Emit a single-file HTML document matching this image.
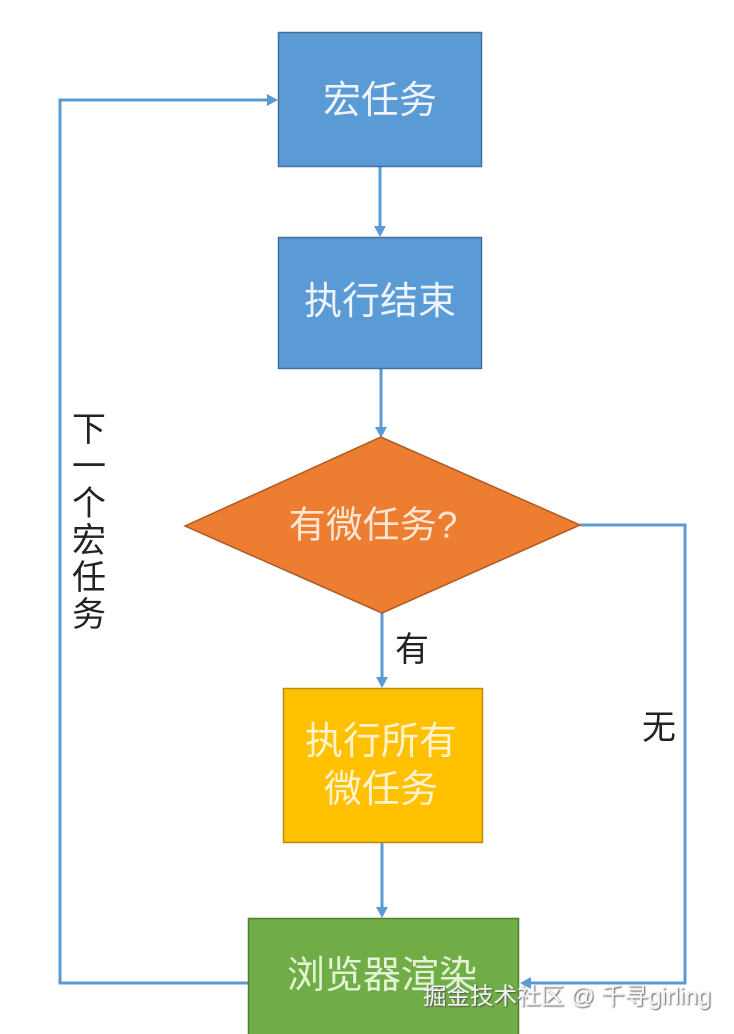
<!DOCTYPE html>
<html><head><meta charset="utf-8"><style>
html,body{margin:0;padding:0;background:#fff;}
svg{display:block;}
text{font-family:"Liberation Sans","Noto Sans CJK SC","WenQuanYi Zen Hei",sans-serif;}
</style></head><body>
<svg width="734" height="1034" viewBox="0 0 734 1034" xmlns="http://www.w3.org/2000/svg">
<defs>
<filter id="sh" x="-5%" y="-30%" width="110%" height="160%"><feDropShadow dx="1" dy="1" stdDeviation="0.8" flood-color="#444" flood-opacity="0.9"/></filter>
</defs>
<!-- connectors -->
<g stroke="#5b9bd5" stroke-width="3" fill="none">
<line x1="380" y1="167" x2="380" y2="228"/>
<line x1="381" y1="369" x2="381" y2="428"/>
<line x1="382" y1="613" x2="382" y2="679"/>
<line x1="382" y1="843" x2="382" y2="909"/>
<polyline points="248,983 60,983 60,100 269,100"/>
<polyline points="580,525 685,525 685,983 529,983"/>
</g>
<g fill="#5b9bd5">
<polygon points="374,226 386,226 380,237"/>
<polygon points="375,427 387,427 381,438"/>
<polygon points="376,677 388,677 382,688"/>
<polygon points="376,907 388,907 382,918"/>
<polygon points="267,94 267,106 278,100"/>
<polygon points="531,977 531,989 520,983"/>
</g>
<!-- boxes -->
<rect x="278.5" y="32.5" width="203" height="134" fill="#5b9bd5" stroke="#41719c" stroke-width="1.5"/>
<rect x="278.5" y="237.5" width="203" height="131" fill="#5b9bd5" stroke="#41719c" stroke-width="1.5"/>
<polygon points="381,437 580,525 382,613 185,526" fill="#ed7d31" stroke="#ae5a21" stroke-width="1.5"/>
<rect x="283.5" y="688.5" width="199" height="154" fill="#ffc000" stroke="#bc8c00" stroke-width="1.5"/>
<rect x="248.5" y="918.5" width="270" height="120" fill="#70ad47" stroke="#507e32" stroke-width="1.5"/>
<!-- box texts -->
<g fill="#eef4fa" font-size="38" text-anchor="middle" dominant-baseline="central">
<text x="380" y="101">宏任务</text>
<text x="380" y="302">执行结束</text>
</g>
<text x="373" y="525" fill="#fde6d4" font-size="37" text-anchor="middle" dominant-baseline="central">有微任务?</text>
<g fill="#fff3cf" font-size="38" text-anchor="middle" dominant-baseline="central">
<text x="381" y="742">执行所有</text>
<text x="381" y="790">微任务</text>
</g>
<text x="382" y="976" fill="#e4f3d6" font-size="38" text-anchor="middle" dominant-baseline="central">浏览器渲染</text>
<!-- labels -->
<g fill="#222" font-size="34" text-anchor="middle" dominant-baseline="central">
<text x="412" y="650">有</text>
<text x="659" y="728">无</text>
<text x="89" y="430">下</text>
<text x="89" y="467">一</text>
<text x="89" y="504">个</text>
<text x="89" y="541">宏</text>
<text x="89" y="578">任</text>
<text x="89" y="615">务</text>
</g>
<!-- watermark -->
<text x="423" y="1004" fill="#f4f4f4" font-size="23.5" filter="url(#sh)" textLength="288" lengthAdjust="spacingAndGlyphs">掘金技术社区 @ 千寻girling</text>
</svg>
</body></html>
